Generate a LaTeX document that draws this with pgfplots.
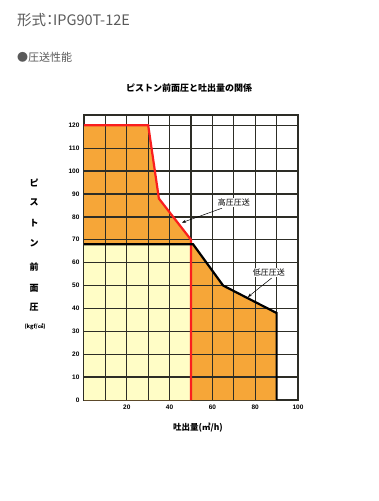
\documentclass[border=0pt]{standalone}
\usepackage{fontspec}
\setmainfont{Noto Sans CJK JP}
\newfontfamily\tickfont{Liberation Sans}
\usepackage{pgfplots}
\pgfplotsset{compat=1.18}
\usetikzlibrary{arrows.meta}
\definecolor{orng}{RGB}{246,166,56}
\definecolor{lyel}{RGB}{255,253,198}
\definecolor{gridc}{RGB}{45,45,38}
\definecolor{hdr}{RGB}{90,90,90}
\definecolor{redl}{RGB}{250,30,30}
\begin{document}
\begin{tikzpicture}
\path[use as bounding box, fill=white] (0pt,0pt) rectangle (379pt,501pt);
\node[anchor=west, text=hdr, font=\fontsize{14.5}{18}\selectfont, inner sep=0pt] at (17pt,481pt) {形式\kern-3.5pt：\kern-4pt IPG90T-12E};
\node[anchor=west, text=hdr, font=\fontsize{11}{13}\selectfont, inner sep=0pt] at (17pt,444pt) {●圧送性能};
\node[font=\bfseries\fontsize{9}{11}\selectfont, inner sep=0pt] at (189pt,413pt) {ピストン前面圧と吐出量の関係};
\foreach \c/\yy in {ピ/318, ス/299, ト/278, ン/258, 前/234, 面/213, 圧/194} {
  \node[font=\bfseries\fontsize{9}{10}\selectfont, inner sep=0pt] at (34pt,\yy pt) {\c};
}
\node[font=\bfseries\fontsize{5.5}{6}\selectfont, inner sep=0pt] at (35pt,174pt) {(kgf/㎠)};
\node[font=\bfseries\fontsize{8.5}{10}\selectfont, inner sep=0pt] at (198pt,73pt) {吐出量(㎥/h)};
\begin{axis}[
  scale only axis,
  width=214pt, height=285pt,
  at={(84pt,101pt)}, anchor=south west,
  xmin=0, xmax=100, ymin=0, ymax=124.5,
  xtick={0,10,...,100},
  xticklabels={,,20,,40,,60,,80,,100},
  ytick={0,10,...,120},
  axis line style={line width=1.3pt, color=gridc},
  tick style={draw=none},
  tick label style={font=\tickfont\bfseries\fontsize{6.5}{7}\selectfont},
  /pgf/number format/assume math mode=true,
  xticklabel style={yshift=-1pt},
  yticklabel style={xshift=-1pt},
  clip=false,
]
\addplot[fill=orng, draw=none] coordinates {(0,0) (0,120) (30,120) (35,88) (50,70) (50,0)} -- cycle;
\addplot[fill=orng, draw=none] coordinates {(0,0) (0,68) (51,68) (65,50) (90,38) (90,0)} -- cycle;
\addplot[fill=lyel, draw=none] coordinates {(0,0) (0,68) (50,68) (50,0)} -- cycle;
\pgfplotsinvokeforeach{10,20,...,90}{
  \addplot[gridc, line width=1.3pt] coordinates {(#1,0) (#1,124.5)};
}
\pgfplotsinvokeforeach{10,20,...,120}{
  \addplot[gridc, line width=1.3pt] coordinates {(0,#1) (100,#1)};
}
\addplot[redl, line width=2.2pt] coordinates {(0,120) (30,120) (35,88) (50,70) (50,0)};
\addplot[black, line width=2.2pt] coordinates {(0,68) (51,68) (65,50) (90,38) (90,0)};
\draw[-{Stealth[length=4pt]}, line width=0.5pt] (axis cs:64.5,83.8) -- (axis cs:45.8,77.5);
\draw[-{Stealth[length=4pt]}, line width=0.5pt] (axis cs:87.7,53.3) -- (axis cs:76.6,45);
\node[fill=white, inner sep=0.8pt, font=\fontsize{8}{9}\selectfont] at (axis cs:70,86.2) {高圧圧送};
\node[fill=white, inner sep=0.8pt, font=\fontsize{8}{9}\selectfont] at (axis cs:86.4,55.9) {低圧圧送};
\end{axis}
\end{tikzpicture}
\end{document}
